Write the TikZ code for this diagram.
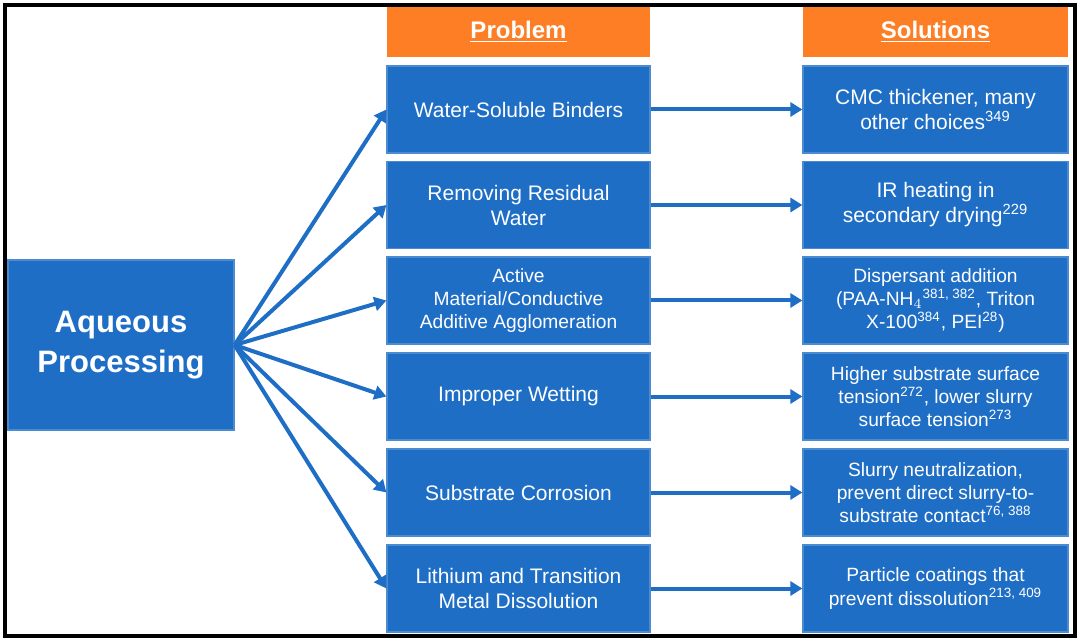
\documentclass[tikz,border=0pt]{standalone}
\usepackage{fontspec}
\setmainfont{Liberation Sans}
\usetikzlibrary{arrows.meta}
\definecolor{boxblue}{RGB}{31,110,198}
\definecolor{headorange}{RGB}{253,126,36}
\tikzset{
  prob/.style={draw=boxblue!80!white, line width=0.6pt, fill=boxblue, text=white, minimum width=131.5pt, minimum height=43.5pt, align=center, inner sep=1pt, font=\fontsize{10.5}{12.5}\selectfont},
  sol/.style={prob, minimum width=132.5pt, font=\fontsize{9.6}{11.6}\selectfont},
  head/.style={fill=headorange, text=white, minimum height=25pt, font=\fontsize{12}{14}\selectfont\bfseries},
  link/.style={boxblue, line width=2pt, -{Triangle[length=6pt,width=7pt]}}
}
\begin{document}
\begin{tikzpicture}[x=0.5pt, y=-0.5pt]
  % frame
  \useasboundingbox (0,0) rectangle (1080,641);
  \draw[line width=2pt] (5,5) rectangle (1075,636);
  % Headers
  \node (hprob) at (518.5,32) [head, minimum width=131.5pt] {\underline{Problem}};
  \node (hsol) at (935.5,32) [head, minimum width=132.5pt] {\underline{Solutions}};
  % Source
  \node (aq) at (121,345) [prob, minimum width=113pt, minimum height=85pt, font=\fontsize{15.5}{20}\selectfont\bfseries] {Aqueous\\Processing};
  % Problems
  \node (p1) at (518.5,109.5) [prob] {Water-Soluble Binders};
  \node (p2) at (518.5,205) [prob] {Removing Residual\\Water};
  \node (p3) at (518.5,300.5) [prob, font=\fontsize{9.6}{11.6}\selectfont] {Active\\Material/Conductive\\Additive Agglomeration};
  \node (p4) at (518.5,396.5) [prob] {Improper Wetting};
  \node (p5) at (518.5,492.5) [prob] {Substrate Corrosion};
  \node (p6) at (518.5,588.5) [prob] {Lithium and Transition\\Metal Dissolution};
  % Solutions
  \node (s1) at (935.5,109.5) [sol, font=\fontsize{10.5}{12.5}\selectfont] {CMC thickener, many\\other choices\textsuperscript{349}};
  \node (s2) at (935.5,205) [sol, font=\fontsize{10.5}{12.5}\selectfont] {IR heating in\\secondary drying\textsuperscript{229}};
  \node (s3) at (935.5,300.5) [sol] {Dispersant addition\\(PAA-NH$_4$\textsuperscript{381, 382}, Triton\\X-100\textsuperscript{384}, PEI\textsuperscript{28})};
  \node (s4) at (935.5,396.5) [sol] {Higher substrate surface\\tension\textsuperscript{272}, lower slurry\\surface tension\textsuperscript{273}};
  \node (s5) at (935.5,492.5) [sol] {Slurry neutralization,\\prevent direct slurry-to-\\substrate contact\textsuperscript{76, 388}};
  \node (s6) at (935.5,588.5) [sol] {Particle coatings that\\prevent dissolution\textsuperscript{213, 409}};
  % Edges
  \foreach \i in {1,...,6} {
    \draw[link] (aq.east) -- (p\i.west);
    \draw[link] (p\i.east) -- (s\i.west);
  }
\end{tikzpicture}
\end{document}
